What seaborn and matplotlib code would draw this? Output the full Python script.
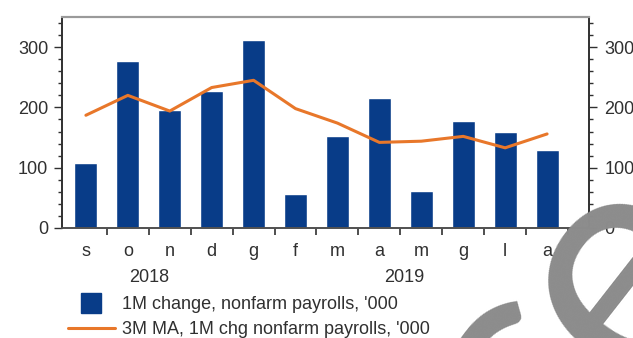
import matplotlib
matplotlib.use("Agg")
import matplotlib.pyplot as plt
from matplotlib.lines import Line2D
from matplotlib.ticker import FixedLocator, MultipleLocator, NullFormatter
import seaborn as sns
import pandas as pd

# Monthly US nonfarm payrolls, Sep 2018 - Aug 2019 ('000)
months = ["s", "o", "n", "d", "g", "f", "m", "a", "m", "g", "l", "a"]
years = ["2018", "2019"]
year_centers = [1.5, 7.6]
payrolls_1m = [108, 277, 196, 227, 312, 56, 153, 216, 62, 178, 159, 130]
payrolls_3m_ma = [187, 220, 194, 233, 245, 198, 174, 142, 144, 152, 133, 156]
labels = ["1M change, nonfarm payrolls, '000", "3M MA, 1M chg nonfarm payrolls, '000"]
y_ticks = [0, 100, 200, 300]

BAR_COLOR = "#083c88"
LINE_COLOR = "#e8772a"
TEXT_COLOR = "#303030"
FS = 13

sns.set_theme(style="white")
plt.rcParams["font.family"] = ["Liberation Sans", "DejaVu Sans"]

df = pd.DataFrame({"idx": range(len(months)), "chg": payrolls_1m, "ma": payrolls_3m_ma})

fig = plt.figure(figsize=(6.33, 3.38), dpi=100)
ax = fig.add_axes([62 / 633, 1 - 228 / 338, (589 - 62) / 633, (228 - 17) / 338])

sns.barplot(data=df, x="idx", y="chg", color=BAR_COLOR, width=0.55,
            saturation=1, ax=ax, zorder=2)
sns.lineplot(data=df, x="idx", y="ma", color=LINE_COLOR, linewidth=2.2,
             ax=ax, zorder=3)

ax.set_xlim(-0.57, 12.0)
ax.set_ylim(0, 350)
ax.set_xlabel("")
ax.set_ylabel("")

# month letters at bar centres, tick marks between categories
ax.xaxis.set_major_locator(FixedLocator(list(range(len(months)))))
ax.set_xticklabels(months)
ax.xaxis.set_minor_locator(FixedLocator([i + 0.5 for i in range(len(months))]))
ax.xaxis.set_minor_formatter(NullFormatter())
ax.tick_params(axis="x", which="major", length=0, pad=11, labelsize=FS,
               labelcolor=TEXT_COLOR)
ax.tick_params(axis="x", which="minor", length=5, width=1.2, color="#303030",
               direction="out", bottom=True)

ax.yaxis.set_major_locator(FixedLocator(y_ticks))
ax.yaxis.set_minor_locator(MultipleLocator(20))
ax.tick_params(axis="y", which="major", length=6, width=1, color="#303030",
               direction="out", left=True, pad=4, labelsize=FS,
               labelcolor=TEXT_COLOR)
ax.tick_params(axis="y", which="minor", length=3, width=1, color="#303030",
               direction="out", left=True)

for yr, xc in zip(years, year_centers):
    ax.text(xc, -0.233, yr, transform=ax.get_xaxis_transform(), ha="center",
            va="center", fontsize=FS, color=TEXT_COLOR)

# mirrored right-hand axis
ax2 = ax.twinx()
ax2.set_ylim(ax.get_ylim())
ax2.yaxis.set_major_locator(FixedLocator(y_ticks))
ax2.yaxis.set_minor_locator(MultipleLocator(20))
ax2.tick_params(axis="y", which="major", length=6, width=1, color="#303030",
                direction="out", right=True, pad=5, labelsize=FS,
                labelcolor=TEXT_COLOR)
ax2.tick_params(axis="y", which="minor", length=3, width=1, color="#303030",
                direction="out", right=True)

for a in (ax, ax2):
    a.spines["left"].set_color("#303030")
    a.spines["right"].set_color("#303030")
    a.spines["bottom"].set_color("#505050")
    a.spines["top"].set_color("#9a9a9a")
    for s in a.spines.values():
        s.set_linewidth(1.2)
    a.spines["top"].set_linewidth(1.5)

handles = [
    Line2D([], [], marker="s", markersize=15, linestyle="none",
           markerfacecolor=BAR_COLOR, markeredgecolor=BAR_COLOR),
    Line2D([], [], color=LINE_COLOR, linewidth=2.2),
]
fig.legend(handles, labels, loc="upper left", bbox_to_anchor=(68 / 633, 1 - 296 / 338),
           frameon=False, fontsize=FS, handlelength=2.6, handletextpad=0.4,
           labelspacing=0.45, borderpad=0, borderaxespad=0,
           labelcolor=TEXT_COLOR)

# watermark lettering, one glyph per text so each can be placed on its own
wm_style = dict(fontsize=240, color="#8c8c8c", rotation=52, rotation_mode="anchor",
                ha="center", va="baseline", family=["Lato", "DejaVu Sans"], zorder=10)
fig.text(587 / 633, 1 - 436 / 338, "c", **wm_style)
fig.text(693 / 633, 1 - 330 / 338, "e", **wm_style)

fig.savefig("out.png", dpi=100)
